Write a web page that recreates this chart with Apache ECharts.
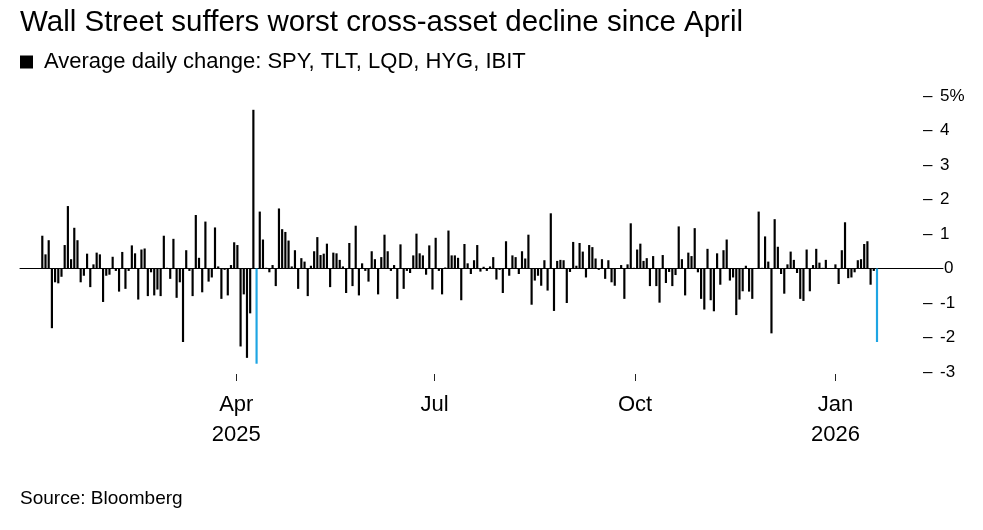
<!DOCTYPE html>
<html><head><meta charset="utf-8">
<script src="https://cdn.jsdelivr.net/npm/echarts@6/dist/echarts.min.js"></script>
<style>html,body{margin:0;padding:0;background:#fff}#c{width:983px;height:530px}</style>
</head><body><div id="c"></div>
<script>
const titleText = 'Wall Street suffers worst cross-asset decline since April';
const seriesName = 'Average daily change: SPY, TLT, LQD, HYG, IBIT';
const sourceText = 'Source: Bloomberg';
const startDate = '2025-01-02';
const endDate = '2026-01-20';
const holidays = ['2025-01-09','2025-01-20','2025-02-17','2025-04-18','2025-05-26','2025-06-19','2025-07-04','2025-09-01','2025-11-27','2025-12-25','2026-01-01','2026-01-19'];
const values = [
 0.95,0.41,0.82,-1.73,-0.40,-0.43,-0.24,0.68,1.81,0.27,
 1.18,0.82,-0.40,-0.21,0.43,-0.54,0.12,0.46,0.41,-0.97,
 -0.21,-0.18,0.34,-0.07,-0.67,0.48,-0.59,-0.07,0.67,0.44,
 -0.90,0.55,0.58,-0.80,-0.11,-0.78,-0.61,-0.80,0.95,0.02,
 -0.30,0.86,-0.85,-0.40,-2.13,0.53,-0.07,-0.80,1.55,0.31,
 -0.69,1.36,-0.38,-0.26,1.19,0.06,-0.88,-0.04,-0.78,0.10,
 0.76,0.68,-2.26,-0.75,-2.59,-1.30,4.60,-2.76,1.65,0.84,
 0.02,-0.11,0.10,-0.51,1.74,1.14,1.06,0.81,0.06,0.53,
 -0.59,0.30,0.20,-0.80,0.08,0.50,0.91,0.39,0.43,0.72,
 -0.54,0.46,0.44,0.25,0.06,-0.71,0.74,-0.51,1.24,-0.78,
 0.15,-0.07,-0.38,0.50,0.27,-0.75,0.33,0.98,0.50,-0.07,
 0.10,-0.88,0.70,-0.59,-0.07,-0.13,0.38,1.01,0.44,0.38,
 -0.18,0.67,-0.61,0.89,-0.07,-0.75,0.03,1.10,0.38,0.38,
 0.31,-0.92,0.71,0.15,-0.16,0.24,0.68,-0.09,0.05,-0.07,
 0.06,0.33,-0.32,-0.04,-0.71,0.79,-0.21,0.38,0.33,-0.16,
 0.50,0.29,0.98,-1.05,-0.35,-0.21,-0.50,0.24,-0.64,1.60,
 -1.23,0.22,0.25,0.24,-1.00,-0.10,0.77,0.08,0.74,0.49,
 -0.26,0.68,0.62,0.29,-0.04,0.27,-0.30,0.24,-0.40,-0.50,
 0.01,0.10,-0.88,0.12,1.31,0.02,0.55,0.72,0.22,0.30,
 -0.51,0.36,-0.51,-0.99,0.39,-0.42,-0.10,-0.51,-0.19,1.22,
 0.27,-0.78,0.46,0.36,1.17,-0.11,-0.88,-1.19,0.57,-0.92,
 -1.24,0.44,-0.47,0.53,0.84,-0.35,-0.26,-1.35,-0.90,-0.66,
 0.08,-0.67,-0.88,0.01,1.65,0.02,0.93,0.20,-1.88,1.43,
 0.63,-0.16,-0.73,0.12,0.49,0.25,-0.13,-0.88,-0.94,0.55,
 -0.66,0.10,0.57,0.17,0.02,0.25,0.01,-0.01,0.12,-0.45,
 0.53,1.34,-0.28,-0.26,-0.11,0.24,0.27,0.71,0.79,-0.47,
 -0.07,-2.13
];
const highlightDates = ['2025-04-10','2026-01-20'];
const xTickDates = ['2025-04-01','2025-07-01','2025-10-01','2026-01-01'];
const monthNames = ['Jan','Feb','Mar','Apr','May','Jun','Jul','Aug','Sep','Oct','Nov','Dec'];
const yMin = -3, yMax = 5;

function tradingDays(s, e, hol) {
  const out = [];
  let t = Date.parse(s + 'T00:00:00Z');
  const end = Date.parse(e + 'T00:00:00Z');
  while (t <= end) {
    const d = new Date(t);
    const w = d.getUTCDay();
    const iso = d.toISOString().slice(0, 10);
    if (w !== 0 && w !== 6 && hol.indexOf(iso) < 0) out.push(iso);
    t += 86400000;
  }
  return out;
}
const dates = tradingDays(startDate, endDate, holidays);
const n = dates.length;
if (n !== values.length) console.error('length mismatch', n, values.length);

const t0 = Date.parse(dates[0] + 'T00:00:00Z');
const t1 = Date.parse(dates[n - 1] + 'T00:00:00Z');
const half = (t1 - t0) / (n - 1) / 2;
const tickTimes = xTickDates.map(d => Date.parse(d + 'T00:00:00Z'));

const FONT = '"Liberation Sans", Arial, Helvetica, sans-serif';
const barData = values.map((v, i) => ({
  value: v,
  itemStyle: { color: highlightDates.indexOf(dates[i]) >= 0 ? '#1ea5e3' : '#000' }
}));

const G0 = { left: 40.7, right: 104.4, top: 96, height: 276 };
const G1 = { left: 20, right: 40, top: 96, height: 276 };

const chart = echarts.init(document.getElementById('c'), null, { renderer: 'canvas' });
chart.setOption({
  animation: false,
  backgroundColor: '#fff',
  textStyle: { fontFamily: FONT },
  title: [
    { text: titleText, left: 20, top: 8, padding: 0, textStyle: { fontFamily: FONT, fontSize: 29.5, fontWeight: 'normal', color: '#000' } },
    { text: sourceText, left: 20, top: 489, padding: 0, textStyle: { fontFamily: FONT, fontSize: 19, fontWeight: 'normal', color: '#000' } }
  ],
  legend: {
    left: 20, top: 51, padding: 0, icon: 'rect', itemWidth: 13, itemHeight: 13, itemGap: 10,
    textStyle: { fontFamily: FONT, fontSize: 22, color: '#000', padding: [0, 0, 0, 6] },
    data: [{ name: seriesName, itemStyle: { color: '#000' } }]
  },
  grid: [
    Object.assign({ containLabel: false }, G0),
    Object.assign({ containLabel: false }, G1)
  ],
  xAxis: [
    { type: 'category', gridIndex: 0, data: dates, show: false, boundaryGap: true },
    {
      type: 'value', gridIndex: 0, position: 'bottom', min: t0 - half, max: t1 + half, offset: 2,
      axisLine: { show: false },
      axisTick: { show: true, length: 7, customValues: tickTimes, lineStyle: { color: '#222', width: 1 } },
      splitLine: { show: false },
      axisLabel: {
        customValues: tickTimes, margin: 16, color: '#000', fontFamily: FONT, fontSize: 22, lineHeight: 30,
        formatter: function (v) {
          const d = new Date(v);
          const m = d.getUTCMonth();
          const y = d.getUTCFullYear();
          return (m === 0 || (y === 2025 && m === 3)) ? monthNames[m] + '\n' + y : monthNames[m];
        }
      }
    },
    {
      type: 'value', gridIndex: 1, min: 0, max: 1, show: true,
      axisLine: { show: true, onZero: true, lineStyle: { color: '#000', width: 1 } },
      axisTick: { show: false }, axisLabel: { show: false }, splitLine: { show: false }
    }
  ],
  yAxis: [
    { type: 'value', gridIndex: 0, min: yMin, max: yMax, show: false, splitLine: { show: false } },
    {
      type: 'value', gridIndex: 1, position: 'right', min: yMin, max: yMax, interval: 1,
      axisLine: { show: false }, axisTick: { show: false }, splitLine: { show: false },
      axisLabel: {
        margin: -20, color: '#000', fontFamily: FONT, fontSize: 17, align: 'left',
        formatter: function (v) {
          if (v === 0) return '{z|0}';
          return '{d|\u2013}{n|' + (v === yMax ? v + '%' : v) + '}';
        },
        rich: {
          d: { width: 17, fontSize: 17, fontFamily: FONT, color: '#000' },
          n: { fontSize: 17, fontFamily: FONT, color: '#000' },
          z: { fontSize: 17, fontFamily: FONT, color: '#000', padding: [0, 0, 0, 21] }
        }
      }
    }
  ],
  series: [{
    name: seriesName, type: 'bar', xAxisIndex: 0, yAxisIndex: 0,
    barWidth: '68%', data: barData, itemStyle: { color: '#000' }
  }]
});
</script></body></html>
